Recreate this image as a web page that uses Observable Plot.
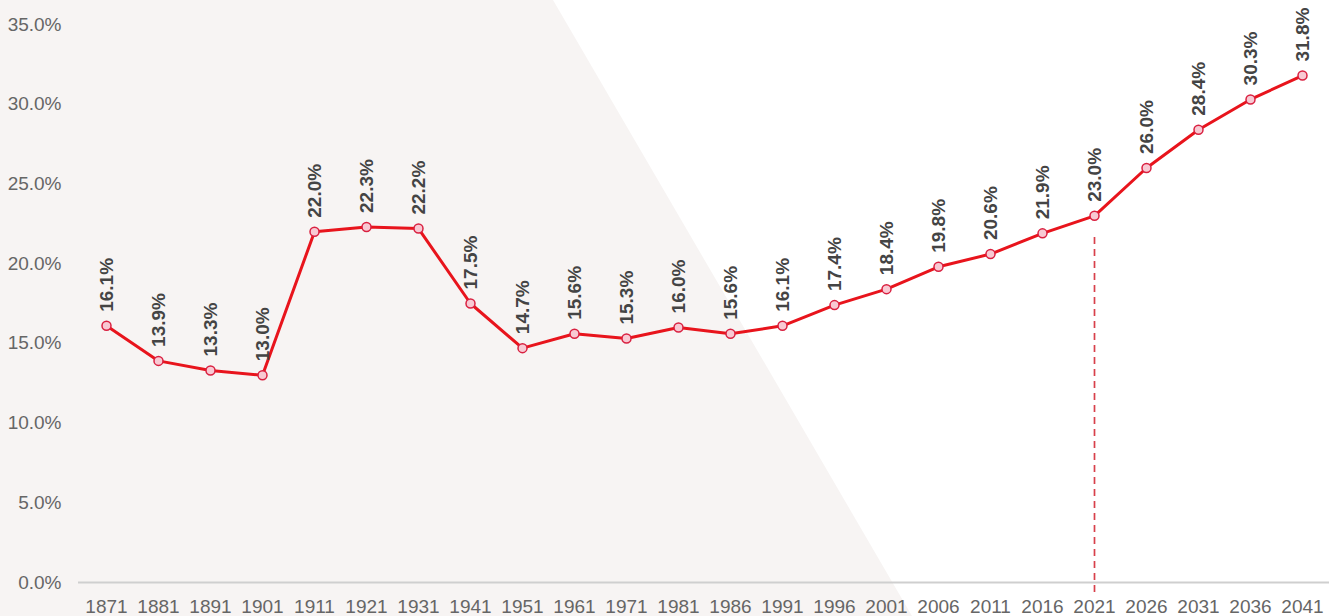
<!DOCTYPE html>
<html>
<head>
<meta charset="utf-8">
<script src="https://cdn.jsdelivr.net/npm/d3@7"></script>
<script src="https://cdn.jsdelivr.net/npm/@observablehq/plot@0.6"></script>
<style>
  html, body { margin: 0; padding: 0; background: #ffffff; }
  #wrap { position: relative; width: 1331px; height: 616px; overflow: hidden; }
  #bg { position: absolute; left: 0; top: 0; width: 1331px; height: 616px;
        background: #f7f4f3; clip-path: polygon(0 0, 553px 0, 912px 616px, 0 616px); }
  #chart { position: absolute; left: 0; top: 0; }
  #chart svg { background: transparent; }
</style>
</head>
<body>
<div id="wrap"><div id="bg"></div><div id="chart"></div></div>
<script>
const years = ["1871","1881","1891","1901","1911","1921","1931","1941","1951","1961","1971","1981","1986","1991","1996","2001","2006","2011","2016","2021","2026","2031","2036","2041"];
const shares = [16.1,13.9,13.3,13.0,22.0,22.3,22.2,17.5,14.7,15.6,15.3,16.0,15.6,16.1,17.4,18.4,19.8,20.6,21.9,23.0,26.0,28.4,30.3,31.8];
const yTicks = [0,5,10,15,20,25,30,35];
const markYear = "2021";

const data = years.map((y, i) => ({year: y, value: shares[i]}));
const marked = data.filter(d => d.year === markYear);
const font = "Arial, 'Liberation Sans', sans-serif";

const chart = Plot.plot({
  width: 1331,
  height: 616,
  marginLeft: 78,
  marginRight: 2,
  marginTop: 24,
  marginBottom: 34,
  style: {fontFamily: font, background: "transparent"},
  x: {type: "point", domain: years, padding: 0.5},
  y: {domain: [0, 35]},
  marks: [
    Plot.axisY({ticks: yTicks, tickFormat: d => d.toFixed(1) + "%", label: null, tickSize: 0, tickPadding: 17, fontSize: 19, fill: "#666"}),
    Plot.axisX({label: null, tickSize: 0, tickPadding: 17, fontSize: 19, fill: "#666"}),
    Plot.ruleY([0], {stroke: "#cfcfcf", strokeWidth: 2}),
    Plot.ruleX(marked, {x: "year", y1: 0, y2: "value", stroke: "#d8404a", strokeWidth: 1.7, strokeDasharray: "7,5", insetTop: 10, insetBottom: -18}),
    Plot.line(data, {x: "year", y: "value", stroke: "#e8141c", strokeWidth: 3}),
    Plot.dot(data, {x: "year", y: "value", r: 4.5, fill: "#f8c9d3", stroke: "#d92040", strokeWidth: 1.5}),
    Plot.text(data, {x: "year", y: "value", text: d => d.value.toFixed(1) + "%", rotate: -90, textAnchor: "start", dy: -14, fontWeight: "bold", fontSize: 19, fill: "#444"})
  ]
});
document.getElementById("chart").appendChild(chart);
</script>
</body>
</html>
